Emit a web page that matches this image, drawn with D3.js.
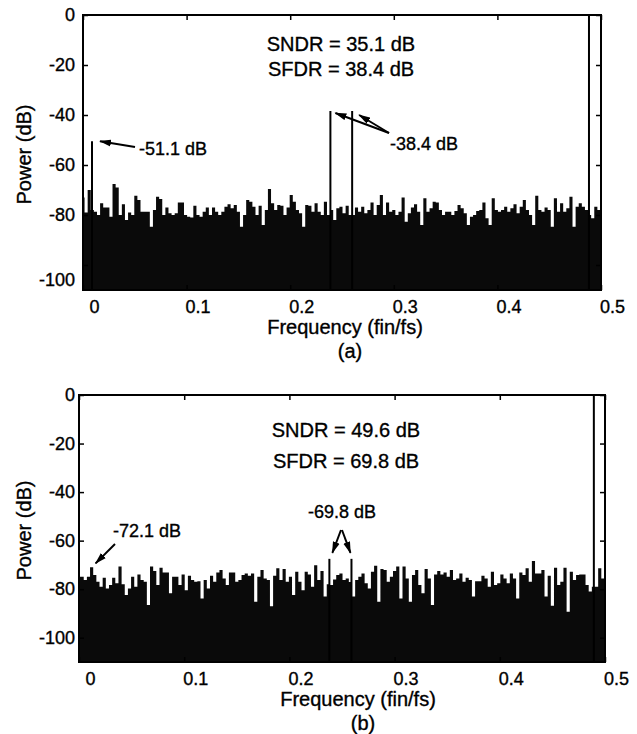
<!DOCTYPE html>
<html>
<head>
<meta charset="utf-8">
<script src="https://cdn.jsdelivr.net/npm/d3@7"></script>
<style>
  body { margin: 0; background: #fff; }
  text { font-family: 'Liberation Sans', Arial, sans-serif; fill: #000; stroke: #000; stroke-width: 0.35px; }
</style>
</head>
<body>
<svg id="chart" width="637" height="734"></svg>
<script>
// bins are 0.003 fin/fs apart, starting at 0
const freqStep = 0.003;
const xTicks = [0, 0.1, 0.2, 0.3, 0.4, 0.5];
const yTicks = [0, -20, -40, -60, -80, -100];

// (a) noise floor in dB
const noiseA = [
  -73, -79, -70, -78, -78.7, -80, -75.3, -77, -77, -80.7,
  -67.6, -69, -80, -75.7, -82, -79, -80, -72.3, -74, -78.7,
  -78.7, -78.7, -84.7, -78, -72.7, -73.6, -80, -77, -79.3, -80,
  -79.3, -75, -75, -80, -80.7, -81, -76.3, -80, -80.7, -78.7,
  -77, -80, -77, -78.7, -80, -78.7, -76.7, -75.7, -77.3, -76,
  -78.7, -84.7, -80, -74, -74.7, -76.7, -80, -76.3, -84, -78,
  -69.6, -75.3, -78, -76, -76.3, -80, -77, -72, -74.7, -78,
  -79.3, -84.7, -76, -76.3, -78.7, -75.3, -78.7, -80, -74.7, -80,
  -78, -82, -77.3, -76.7, -79.3, -76.3, -80, -80, -77, -78.7,
  -76.7, -79.3, -78, -75, -80, -76, -72, -80, -75, -78.7,
  -78, -80, -78.7, -73, -82.7, -79.3, -77, -75.7, -78.7, -84,
  -73.3, -78.7, -77.3, -74.7, -75, -78, -80, -78.7, -78.7, -80,
  -78.4, -76, -77.3, -79.3, -84, -80.7, -80, -78.4, -78, -75,
  -81.3, -84, -73.3, -78, -78.7, -78, -76.7, -78.7, -77.3, -75.7,
  -79.3, -76.7, -74, -78, -80, -84, -72.3, -78, -78.7, -77,
  -78, -84.7, -73.3, -78.7, -75.3, -78.7, -77.3, -72.7, -84.7, -76.7,
  -75.3, -76.7, -78, -80, -81.3, -76.7, -78
];
const spikeFreqA = [0.0087, 0.2388, 0.2598, 0.4884];
const spikeDbA = [-50.5, -38.4, -38.4, 0];

// (b) noise floor in dB
const noiseB = [
  -74.9, -74.9, -76.2, -74.9, -71, -74.2, -76.9, -79, -75.3, -79.7,
  -78.3, -75.3, -77.6, -70.7, -78, -82.4, -79.7, -74.9, -79, -73.9,
  -76.2, -76.9, -86.5, -70.7, -72.5, -78.3, -71.2, -73.1, -73.1, -81.7,
  -74.9, -74.9, -78.3, -73.9, -80.4, -74.5, -76.2, -76.9, -76.7, -83.8,
  -76.2, -79.7, -74.5, -76.9, -73.1, -72.1, -75.6, -78.3, -73.1, -73.1,
  -76.9, -76.2, -74.2, -73.5, -74.5, -73.5, -85.2, -74.9, -72.1, -75.6,
  -76.2, -87, -74.5, -71.4, -76.2, -71.7, -76.9, -74.9, -82.4, -72.8,
  -76.9, -80.4, -72.8, -73.9, -79, -70.1, -76.2, -72.5, -83, -78,
  -78.3, -76, -74.2, -73.5, -76.2, -75.6, -77, -83, -76.2, -74.9,
  -73.5, -77.6, -79.7, -72.8, -70.3, -85.2, -71.7, -72.1, -76.9, -74.9,
  -72.5, -70.7, -83.8, -70.7, -75.6, -85.2, -74.2, -72.1, -78.3, -81.7,
  -71.7, -75.6, -86.5, -73.9, -72.5, -73.9, -73.1, -74.9, -72.1, -76.2,
  -75.6, -73.5, -76.9, -75.3, -76.2, -83, -76.7, -76.7, -74.5, -75.6,
  -79, -72.8, -78.3, -77.6, -73.9, -75.6, -77.6, -73.5, -75.6, -83.8,
  -73.1, -74.2, -71.4, -76.9, -68.4, -73.5, -73.5, -72.1, -83, -74.5,
  -86.8, -71.2, -78.3, -76.9, -71.2, -89.3, -72.8, -76.2, -74.2, -73.9,
  -73.9, -78.3, -81, -79, -79, -71.4, -75.6
];
const spikeFreqB = [0.238, 0.259, 0.4894];
const spikeDbB = [-67.5, -67.5, 0];

const svg = d3.select('#chart');

svg.append('defs').append('marker')
    .attr('id', 'head')
    .attr('markerUnits', 'userSpaceOnUse')
    .attr('markerWidth', 12)
    .attr('markerHeight', 8)
    .attr('refX', 11)
    .attr('refY', 4)
    .attr('orient', 'auto')
  .append('path')
    .attr('d', 'M0,0.5 L12,4 L0,7.5 Z')
    .attr('fill', '#000');

function drawPanel(p) {
    const x = d3.scaleLinear().domain([0, 0.5]).range([p.left, p.right]);
    const y = d3.scaleLinear().domain([-110, 0]).range([p.bottom, p.top]);
    const g = svg.append('g');

    // noise floor as filled steps
    const pts = p.noise.map((v, i) => [i * freqStep, v]);
    pts.push([0.5, p.noise[p.noise.length - 1]]);
    const area = d3.area()
        .x(d => x(d[0]))
        .y0(y(-110))
        .y1(d => y(d[1]))
        .curve(d3.curveStep);
    g.append('path').attr('d', area(pts)).attr('fill', '#0a0a0a');

    // tones
    const spikes = p.spikeFreq.map((f, i) => ({ f: f, db: p.spikeDb[i] }));
    g.selectAll('line.spike')
        .data(spikes)
        .join('line')
        .attr('class', 'spike')
        .attr('x1', d => x(d.f)).attr('x2', d => x(d.f))
        .attr('y1', y(-110)).attr('y2', d => y(d.db))
        .attr('stroke', '#000')
        .attr('stroke-width', 2);

    // axes, ticks point inward
    const fmt = d => String(d);
    const left = g.append('g')
        .attr('transform', `translate(${p.left},0)`)
        .call(d3.axisLeft(y).tickValues(yTicks).tickSizeInner(-5).tickSizeOuter(0)
            .tickPadding(p.yPad).tickFormat(fmt));
    const bottom = g.append('g')
        .attr('transform', `translate(0,${p.bottom})`)
        .call(d3.axisBottom(x).tickValues(xTicks).tickSizeInner(-5).tickSizeOuter(0)
            .tickPadding(10).tickFormat(fmt));
    g.append('g')
        .attr('transform', `translate(${p.right},0)`)
        .call(d3.axisRight(y).tickValues(yTicks).tickSizeInner(-5).tickSizeOuter(0).tickFormat(''));
    g.append('g')
        .attr('transform', `translate(0,${p.top})`)
        .call(d3.axisTop(x).tickValues(xTicks).tickSizeInner(-5).tickSizeOuter(0).tickFormat(''));

    g.selectAll('.domain').remove();
    g.selectAll('.tick line').attr('stroke', '#000').attr('stroke-width', 1.5);
    g.selectAll('.tick text').attr('font-size', 18).attr('font-family', null).attr('fill', null);
    bottom.selectAll('.tick text').attr('dx', 11);
    left.selectAll('.tick text').filter(d => d === -100).attr('y', p.lowShift);

    g.append('rect')
        .attr('x', p.left).attr('y', p.top)
        .attr('width', p.right - p.left).attr('height', p.bottom - p.top)
        .attr('fill', 'none').attr('stroke', '#000').attr('stroke-width', 2);

    // axis titles
    g.append('text')
        .attr('transform', `translate(${p.ylabX},${(p.top + p.bottom) / 2 + 2}) rotate(-90)`)
        .attr('text-anchor', 'middle').attr('font-size', 20)
        .text('Power (dB)');
    g.append('text')
        .attr('x', p.xlabX).attr('y', p.bottom + 44)
        .attr('text-anchor', 'middle').attr('font-size', 20)
        .text('Frequency (fin/fs)');
    g.append('text')
        .attr('x', p.xlabX + 5).attr('y', p.bottom + 68)
        .attr('text-anchor', 'middle').attr('font-size', 20)
        .text(p.caption);

    // SNDR / SFDR
    g.selectAll('text.metric')
        .data(p.metrics)
        .join('text')
        .attr('class', 'metric')
        .attr('x', p.metricX)
        .attr('y', (d, i) => p.metricY + i * p.metricGap)
        .attr('text-anchor', 'middle').attr('font-size', 20)
        .text(d => d);

    // callouts
    p.notes.forEach(n => {
        g.append('text')
            .attr('x', n.tx).attr('y', n.ty)
            .attr('font-size', 18)
            .text(n.label);
        n.arrows.forEach(a => {
            const s = spikes.find(d => d.f === a.f) || { f: a.f, db: a.db };
            g.append('line')
                .attr('x1', a.ax).attr('y1', a.ay)
                .attr('x2', x(s.f) + a.dx).attr('y2', y(s.db) + a.dy)
                .attr('stroke', '#000').attr('stroke-width', 2)
                .attr('marker-end', 'url(#head)');
        });
    });
}

drawPanel({
    left: 83, right: 601, top: 15, bottom: 290,
    noise: noiseA, spikeFreq: spikeFreqA, spikeDb: spikeDbA,
    yPad: 8, lowShift: 15, ylabX: 31, xlabX: 345, caption: '(a)',
    metrics: ['SNDR = 35.1 dB', 'SFDR = 38.4 dB'],
    metricX: 341, metricY: 51, metricGap: 25,
    notes: [
        { label: '-51.1 dB', tx: 139, ty: 155,
          arrows: [{ f: 0.0087, ax: 135, ay: 147, dx: 8, dy: 0 }] },
        { label: '-38.4 dB', tx: 390, ty: 150,
          arrows: [{ f: 0.2388, ax: 389, ay: 133, dx: 5, dy: 2 },
                   { f: 0.2598, ax: 389, ay: 133, dx: 7, dy: 4 }] }
    ]
});

drawPanel({
    left: 79, right: 605, top: 395, bottom: 662,
    noise: noiseB, spikeFreq: spikeFreqB, spikeDb: spikeDbB,
    yPad: 4, lowShift: 0, ylabX: 31, xlabX: 358, caption: '(b)',
    metrics: ['SNDR = 49.6 dB', 'SFDR = 69.8 dB'],
    metricX: 346, metricY: 437, metricGap: 31,
    notes: [
        { label: '-72.1 dB', tx: 113, ty: 537,
          arrows: [{ f: 0.012, db: -71, ax: 115, ay: 544, dx: 4, dy: -4 }] },
        { label: '-69.8 dB', tx: 308, ty: 518,
          arrows: [{ f: 0.238, ax: 341, ay: 530, dx: 3, dy: -6 },
                   { f: 0.259, ax: 342, ay: 530, dx: -1, dy: -6 }] }
    ]
});
</script>
</body>
</html>
